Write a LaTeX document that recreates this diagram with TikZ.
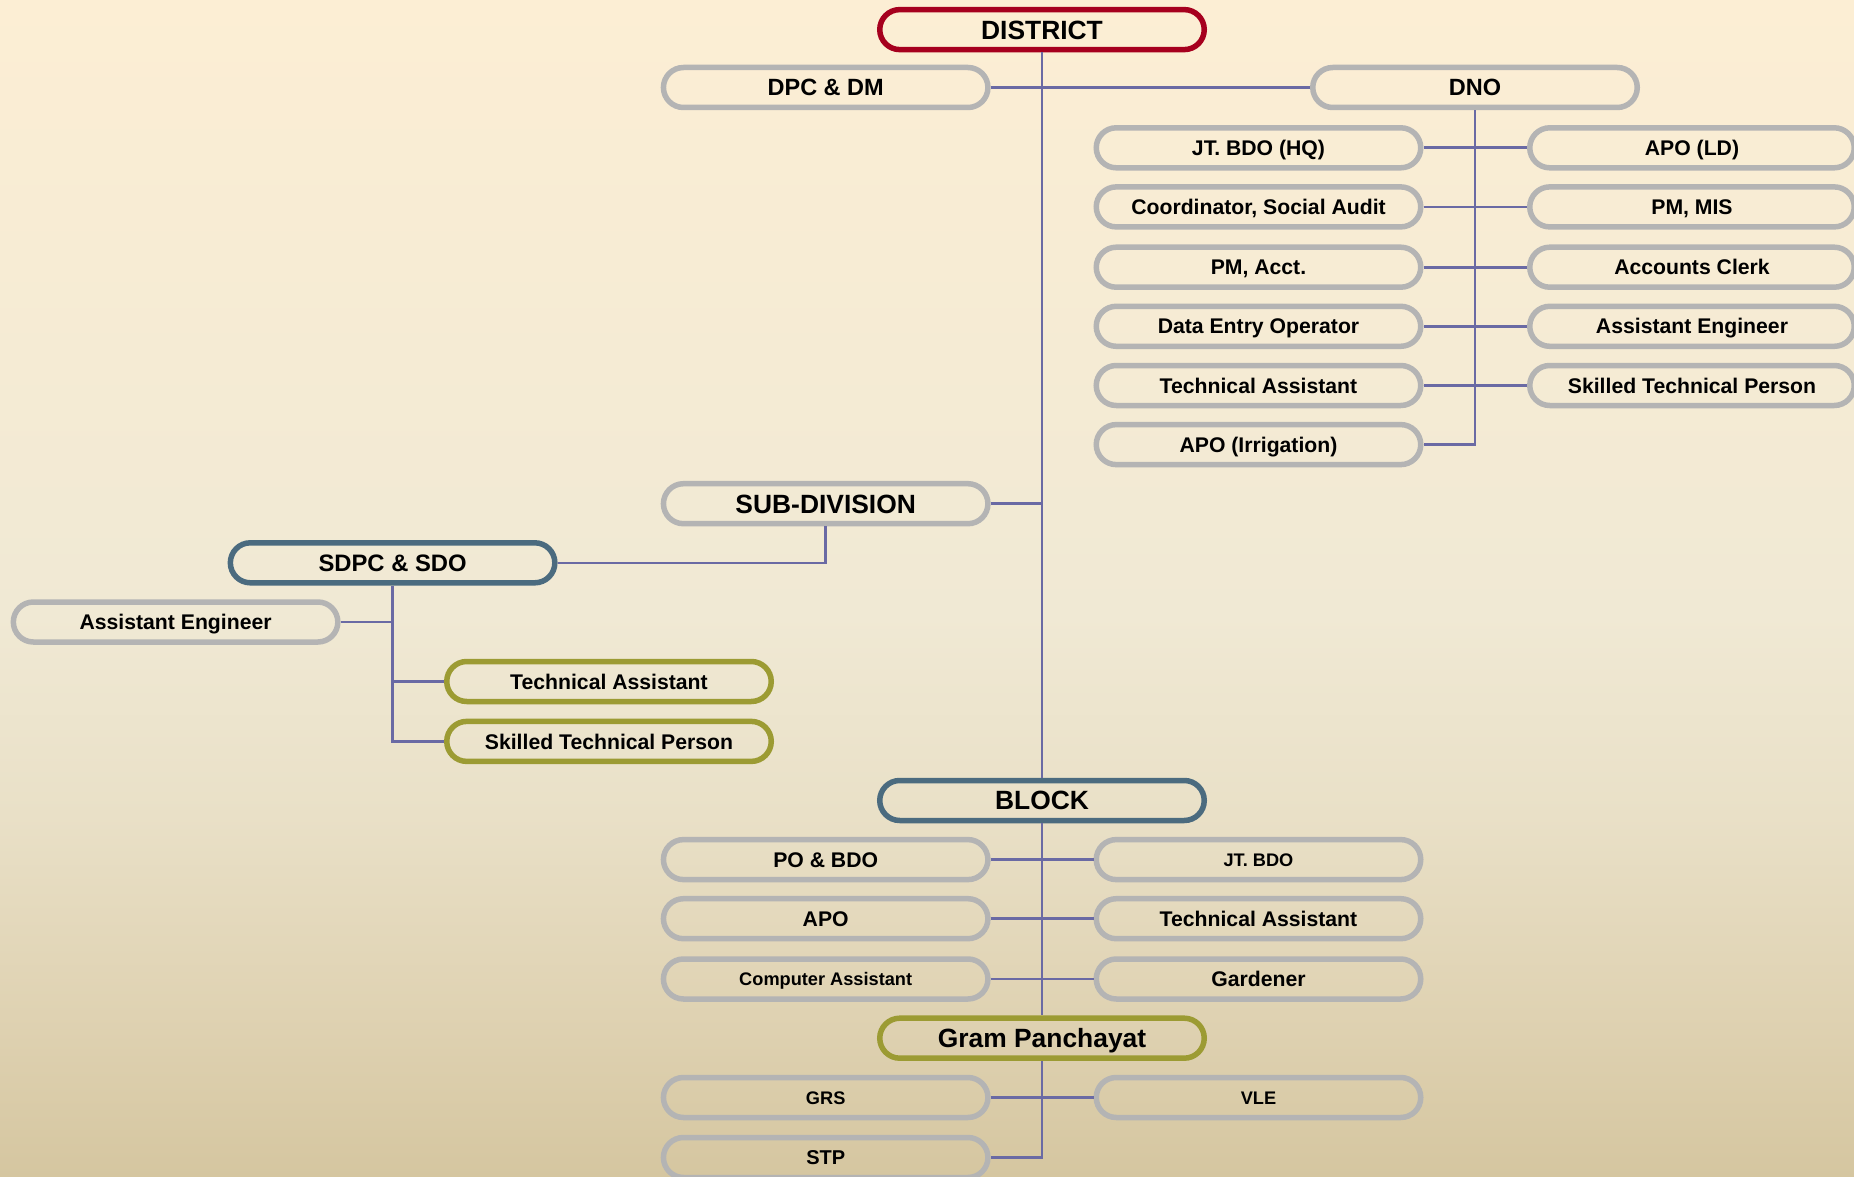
\documentclass[tikz,border=0pt]{standalone}
\usepackage{fontspec}
\setmainfont{Liberation Sans}
\definecolor{bga}{HTML}{FCEED4}
\definecolor{bgb}{HTML}{F0E9D4}
\definecolor{bgc}{HTML}{E9E0C7}
\definecolor{bgd}{HTML}{DFD2B2}
\definecolor{bge}{HTML}{D5C6A0}
\definecolor{boxgray}{HTML}{B4B4B4}
\definecolor{boxred}{HTML}{A6001E}
\definecolor{boxblue}{HTML}{4B6B7F}
\definecolor{boxolive}{HTML}{9C9B33}
\definecolor{linkcol}{HTML}{6A6AA4}
\pgfdeclareverticalshading{bgshade}{100bp}{color(0bp)=(bge); color(25bp)=(bge); color(31.9bp)=(bgd); color(40.4bp)=(bgc); color(48.9bp)=(bgb); color(75bp)=(bga); color(100bp)=(bga)}
\tikzset{
  box/.style={draw=boxgray, line width=2.75pt, rounded corners=10pt,
    minimum width=162.25pt, minimum height=20pt, inner sep=0pt,
    font=\bfseries\fontsize{10.6}{13}\selectfont, text height=7.6pt, text depth=0pt},
  dnobox/.style={box, font=\bfseries\fontsize{11.75}{14}\selectfont, text height=8.4pt},
  smallbox/.style={box, font=\bfseries\fontsize{9.1}{11}\selectfont, text height=6.5pt},
  stpbox/.style={box, font=\bfseries\fontsize{10}{12}\selectfont, text height=7.2pt},
  bigbox/.style={box, font=\bfseries\fontsize{13.2}{16}\selectfont, text height=9.45pt},
  redbox/.style={bigbox, draw=boxred},
  bluebox/.style={bigbox, draw=boxblue},
  olivebox/.style={box, draw=boxolive},
  link/.style={draw=linkcol, line width=1.3pt}
}
\begin{document}
\begin{tikzpicture}[x=0.5pt,y=-0.5pt]
\useasboundingbox (0,0) rectangle (1854,1177);
\shade[shading=bgshade] (0,0) rectangle (1854,1177);

% District level
\node[redbox] (district) at (1042,29.6) {DISTRICT};
\node[dnobox] (dpc) at (825.7,87.5) {DPC \& DM};
\node[dnobox] (dno) at (1475,87.5) {DNO};

\node[box] (jtbdohq) at (1258.5,147.8) {JT. BDO (HQ)};
\node[box] (coord) at (1258.5,206.9) {Coordinator, Social Audit};
\node[box] (pmacct) at (1258.5,267.2) {PM, Acct.};
\node[box] (deo) at (1258.5,326.3) {Data Entry Operator};
\node[box] (dta) at (1258.5,385.5) {Technical Assistant};
\node[box] (apoirr) at (1258.5,444.6) {APO (Irrigation)};

\node[box] (apold) at (1692,147.8) {APO (LD)};
\node[box] (pmmis) at (1692,206.9) {PM, MIS};
\node[box] (clerk) at (1692,267.2) {Accounts Clerk};
\node[box] (dae) at (1692,326.3) {Assistant Engineer};
\node[box] (dstp) at (1692,385.5) {Skilled Technical Person};

% Sub-division
\node[bigbox] (subdiv) at (825.7,503.7) {SUB-DIVISION};
\node[bluebox, font=\bfseries\fontsize{11.9}{14}\selectfont, text height=8.5pt] (sdpc) at (392.6,562.8) {SDPC \& SDO};
\node[box] (sae) at (175.6,622) {Assistant Engineer};
\node[olivebox] (sta) at (609,681.5) {Technical Assistant};
\node[olivebox] (sstp) at (609,741.4) {Skilled Technical Person};

% Block
\node[bluebox] (block) at (1042,800.5) {BLOCK};
\node[box] (pobdo) at (825.7,859.6) {PO \& BDO};
\node[box] (apo) at (825.7,918.7) {APO};
\node[smallbox] (comp) at (825.7,979) {Computer Assistant};
\node[smallbox] (jtbdo) at (1258.5,859.6) {JT. BDO};
\node[box] (bta) at (1258.5,918.7) {Technical Assistant};
\node[box] (gard) at (1258.5,979) {Gardener};

% Gram Panchayat
\node[bigbox, draw=boxolive] (gp) at (1042,1038.2) {Gram Panchayat};
\node[smallbox] (grs) at (825.7,1097.5) {GRS};
\node[smallbox] (vle) at (1258.5,1097.5) {VLE};
\node[stpbox] (stp) at (825.7,1157.5) {STP};

% Connectors
\draw[link] (district.south) -- (block.north);
\draw[link] (dpc.east) -- (dno.west);
\draw[link] (dno.south) |- (apoirr.east);
\draw[link] (jtbdohq.east) -- (apold.west);
\draw[link] (coord.east) -- (pmmis.west);
\draw[link] (pmacct.east) -- (clerk.west);
\draw[link] (deo.east) -- (dae.west);
\draw[link] (dta.east) -- (dstp.west);

\draw[link] (subdiv.east) -- (subdiv.east -| district.south);
\draw[link] (subdiv.south) |- (sdpc.east);
\draw[link] (sdpc.south) |- (sstp.west);
\draw[link] (sae.east) -- (sae.east -| sdpc.south);
\draw[link] (sta.west) -- (sta.west -| sdpc.south);

\draw[link] (block.south) -- (gp.north);
\draw[link] (pobdo.east) -- (jtbdo.west);
\draw[link] (apo.east) -- (bta.west);
\draw[link] (comp.east) -- (gard.west);

\draw[link] (gp.south) |- (stp.east);
\draw[link] (grs.east) -- (vle.west);
\end{tikzpicture}
\end{document}
